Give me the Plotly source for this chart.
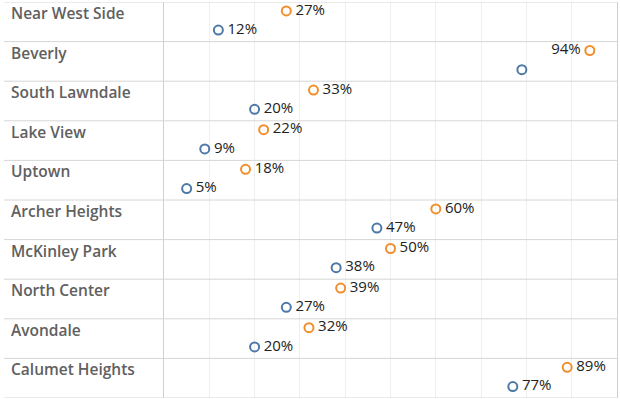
import plotly.graph_objects as go

neighborhoods = ["Near West Side", "Beverly", "South Lawndale", "Lake View", "Uptown",
                 "Archer Heights", "McKinley Park", "North Center", "Avondale", "Calumet Heights"]
orange_vals = [27, 94, 33, 22, 18, 60, 50, 39, 32, 89]
blue_vals = [12, 79, 20, 9, 5, 47, 38, 27, 20, 77]
orange_labels = ["27%", "94%", "33%", "22%", "18%", "60%", "50%", "39%", "32%", "89%"]
blue_labels = ["12%", "", "20%", "9%", "5%", "47%", "38%", "27%", "20%", "77%"]
orange_text_pos = ["middle right", "middle left"] + ["middle right"] * 8

ORANGE = "#f28e2b"
BLUE = "#4e79a7"
n = len(neighborhoods)
rows = list(range(n))
GAP = "\u2009"


def pad(label, pos):
    if not label:
        return label
    return label + GAP if pos.endswith("left") else GAP + label


data_font = dict(family="Open Sans", size=15, color="#222222", weight=500)

fig = go.Figure()
fig.add_trace(go.Scatter(
    x=orange_vals, y=[r + 0.225 for r in rows], mode="markers+text",
    marker=dict(symbol="circle-open", size=9, color=ORANGE, line=dict(width=2, color=ORANGE)),
    text=[pad(t, p) for t, p in zip(orange_labels, orange_text_pos)],
    textposition=orange_text_pos, textfont=data_font,
    cliponaxis=False, showlegend=False, hoverinfo="skip"))
fig.add_trace(go.Scatter(
    x=blue_vals, y=[r + 0.71 for r in rows], mode="markers+text",
    marker=dict(symbol="circle-open", size=9, color=BLUE, line=dict(width=2, color=BLUE)),
    text=[pad(t, "middle right") for t in blue_labels],
    textposition="middle right", textfont=data_font,
    cliponaxis=False, showlegend=False, hoverinfo="skip"))

plot_w = 620 - 164 - 3
left_paper = -160 / plot_w

shapes = []
for b in range(n + 1):
    shapes.append(dict(type="line", xref="paper", yref="y", x0=left_paper, x1=1, y0=b, y1=b,
                       line=dict(color="#d6d6d6", width=1), layer="above"))
fig.update_layout(shapes=shapes)

for i, name in enumerate(neighborhoods):
    fig.add_annotation(x=0, xref="paper", xshift=-155, xanchor="left", y=i + 0.28, yref="y",
                       text=name, showarrow=False,
                       font=dict(family="Open Sans", size=15.5, color="#606060", weight=600))

fig.update_xaxes(range=[0, 100], dtick=10, showgrid=True, gridcolor="#efefef", gridwidth=1,
                 showticklabels=False, zeroline=False, ticks="", fixedrange=True)
fig.update_yaxes(range=[n, 0], showgrid=False, showticklabels=False, zeroline=False, ticks="",
                 showline=True, linecolor="#d0d0d0", linewidth=1, mirror=True, fixedrange=True)

fig.update_layout(width=620, height=399, margin=dict(l=164, r=3, t=2, b=1),
                  plot_bgcolor="white", paper_bgcolor="white")
fig.write_html("out.html", config={"displayModeBar": False},
               post_script="document.body.style.margin='0';")
